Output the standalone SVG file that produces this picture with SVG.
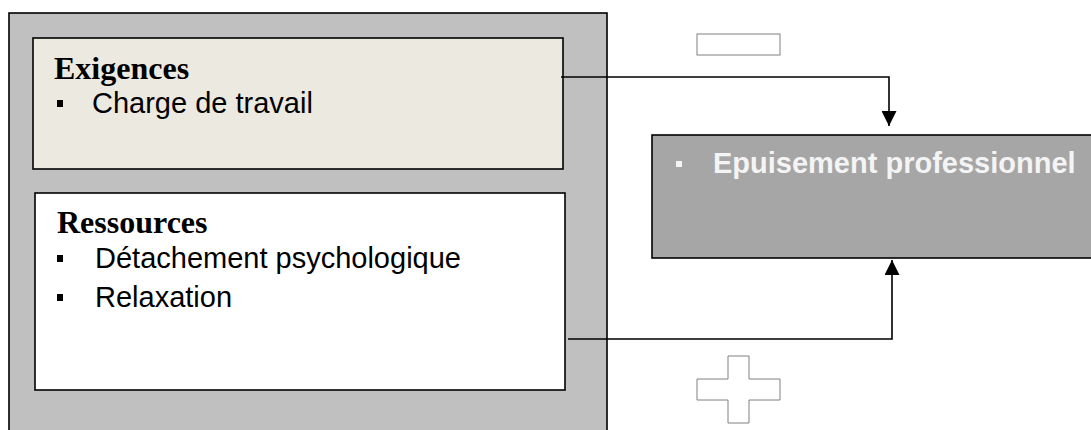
<svg xmlns="http://www.w3.org/2000/svg" width="1091" height="430" viewBox="0 0 1091 430">
<defs>
<style>
.box{stroke:#000;stroke-width:1.6}
.h{font-family:"Liberation Serif","Times New Roman",serif;font-weight:bold;font-size:32px;fill:#000}
.t{font-family:"Liberation Sans",Arial,sans-serif;font-size:29px;fill:#000}
.w{font-family:"Liberation Sans",Arial,sans-serif;font-weight:bold;font-size:29px;fill:#F4F4F4}
.sign{fill:#fff;stroke:#808080;stroke-width:1}
.conn{fill:none;stroke:#000;stroke-width:1.6}
</style>
<marker id="arr" viewBox="0 0 10 10" refX="10" refY="5" markerWidth="16" markerHeight="15" markerUnits="userSpaceOnUse" orient="auto">
<path d="M0,0 L10,5 L0,10 Z" fill="#000"/>
</marker>
</defs>
<g id="outer">
<rect x="9" y="13" width="598" height="430" fill="#C0C0C0" class="box"/>
</g>
<g id="exigences">
<rect x="33" y="38" width="530" height="131" fill="#ECE9E0" class="box"/>
<text x="54" y="79" class="h">Exigences</text>
<rect x="57" y="100" width="6" height="7" fill="#000"/>
<text x="92" y="113" class="t">Charge de travail</text>
</g>
<g id="ressources">
<rect x="35" y="193" width="530" height="197" fill="#FFFFFF" class="box"/>
<text x="57" y="233" class="h">Ressources</text>
<rect x="57" y="255" width="6" height="7" fill="#000"/>
<text x="95" y="268" class="t">Détachement psychologique</text>
<rect x="57" y="294" width="6" height="7" fill="#000"/>
<text x="95" y="307" class="t">Relaxation</text>
</g>
<g id="epuisement">
<rect x="652" y="135" width="450" height="123" fill="#A6A6A6" class="box"/>
<rect x="676" y="161" width="6" height="6" fill="#F4F4F4"/>
<text x="713" y="173" class="w">Epuisement professionnel</text>
</g>
<g id="minus">
<rect x="697" y="34" width="83" height="21" class="sign"/>
</g>
<g id="plus">
<path d="M728,356 H749 V379 H780 V400 H749 V423 H728 V400 H697 V379 H728 Z" class="sign"/>
</g>
<g id="connectors">
<path d="M561,77 H889 V126" class="conn" marker-end="url(#arr)"/>
<path d="M568,339 H892 V260" class="conn" marker-end="url(#arr)"/>
</g>
</svg>
